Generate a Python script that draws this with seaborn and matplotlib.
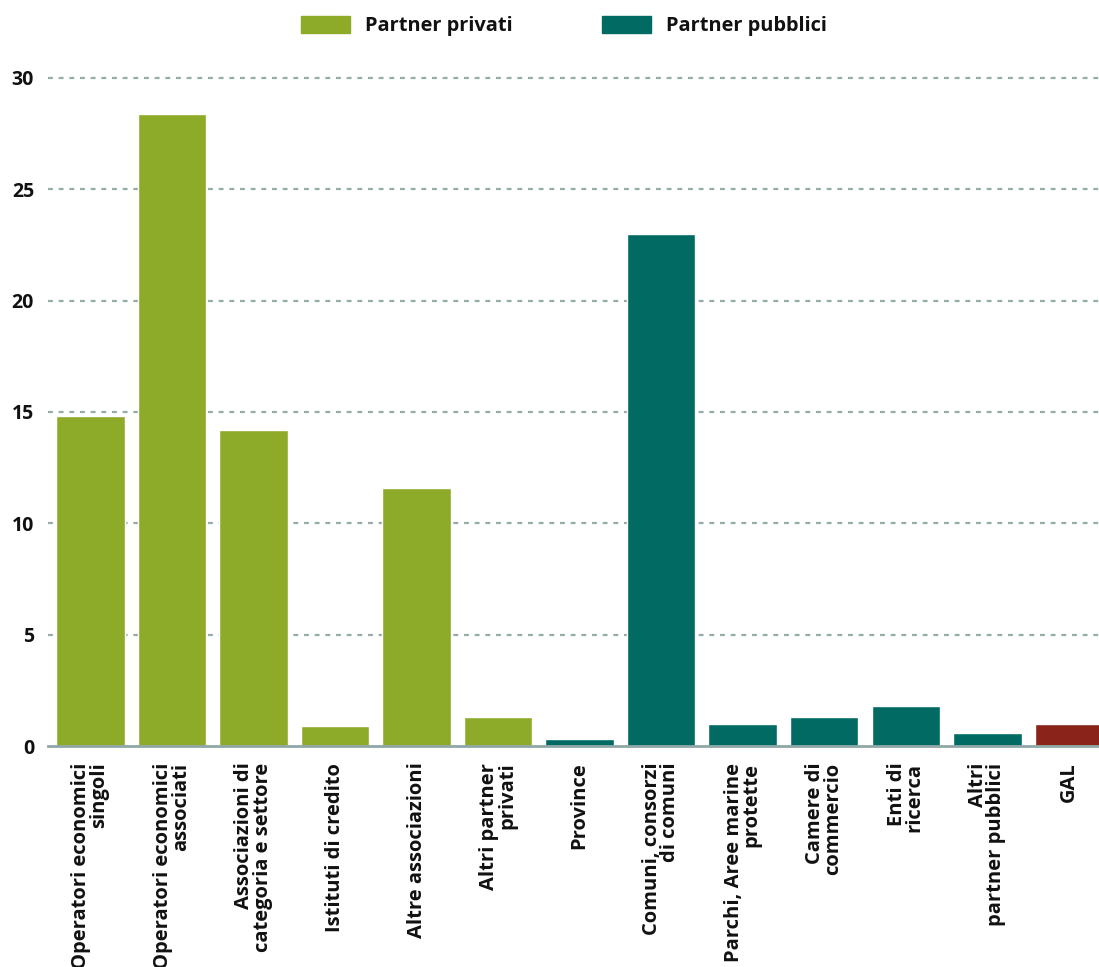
import matplotlib
matplotlib.use("Agg")
import matplotlib.pyplot as plt
import matplotlib.patches as mpatches
import seaborn as sns
import pandas as pd

categories = [
    "Operatori economici\nsingoli",
    "Operatori economici\nassociati",
    "Associazioni di\ncategoria e settore",
    "Istituti di credito",
    "Altre associazioni",
    "Altri partner\nprivati",
    "Province",
    "Comuni, consorzi\ndi comuni",
    "Parchi, Aree marine\nprotette",
    "Camere di\ncommercio",
    "Enti di\nricerca",
    "Altri\npartner pubblici",
    "GAL",
]
values = [14.8, 28.4, 14.2, 0.9, 11.6, 1.3, 0.3, 23.0, 1.0, 1.3, 1.8, 0.6, 1.0]
groups = ["Partner privati"] * 6 + ["Partner pubblici"] * 6 + ["GAL"]
yticks = [0, 5, 10, 15, 20, 25, 30]

palette = {"Partner privati": "#8dab29", "Partner pubblici": "#006a63", "GAL": "#8b2418"}

df = pd.DataFrame({"categoria": categories, "valore": values, "gruppo": groups})

sns.set_style("white")
plt.rcParams["font.family"] = ["Open Sans", "DejaVu Sans"]
plt.rcParams["font.weight"] = "bold"

fig = plt.figure(figsize=(10.99, 9.67), dpi=100)
ax = fig.add_axes([48 / 1099, 1 - 746 / 967, 1 - 48 / 1099, (746 - 55.6) / 967])

sns.barplot(data=df, x="categoria", y="valore", hue="gruppo", palette=palette,
            dodge=False, width=0.84, order=categories, ax=ax, legend=False,
            saturation=1)

ax.set_xlim(-0.52, 12.37)
ax.set_ylim(0, 31)
ax.set_yticks(yticks)
ax.set_yticklabels([str(t) for t in yticks], fontsize=14, fontweight="bold",
                   color="#111111")
ax.set_xlabel("")
ax.set_ylabel("")

ax.set_xticks(range(len(categories)))
ax.set_xticklabels(categories, rotation=90, fontsize=14.5, fontweight="bold",
                   ha="center", va="top", multialignment="right",
                   linespacing=0.88, color="#111111")
ax.tick_params(axis="x", length=0, pad=12)
ax.tick_params(axis="y", length=0, pad=10)

for t in yticks[1:]:
    ax.axhline(t, color="#97abab", lw=1.6, ls=(0, (2.2, 2.6)), zorder=0)

for s in ["top", "right", "left"]:
    ax.spines[s].set_visible(False)
ax.spines["bottom"].set_color("#8fa8a7")
ax.spines["bottom"].set_linewidth(2)
ax.spines["bottom"].set_zorder(3)

handles = [mpatches.Patch(color=palette["Partner privati"], label="Partner privati"),
           mpatches.Patch(color=palette["Partner pubblici"], label="Partner pubblici")]
fig.legend(handles=handles, loc="center", bbox_to_anchor=(564 / 1099, 1 - 26 / 967),
           ncol=2, frameon=False, prop={"weight": "bold", "size": 14.4},
           labelcolor="#111111",
           handlelength=2.45, handleheight=0.97, handletextpad=0.75,
           columnspacing=4.5)

fig.savefig("out.png", dpi=100)
